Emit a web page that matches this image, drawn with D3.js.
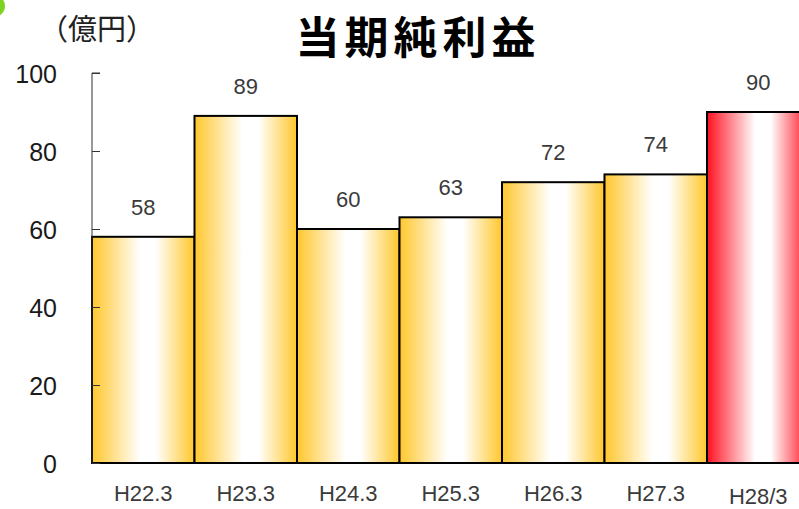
<!DOCTYPE html>
<html>
<head>
<meta charset="utf-8">
<script src="https://cdn.jsdelivr.net/npm/d3@7"></script>
<style>
  body { margin: 0; background: #fff; }
  svg { display: block; }
</style>
</head>
<body>
<svg width="799" height="509"></svg>
<script>
const categories = ['H22.3', 'H23.3', 'H24.3', 'H25.3', 'H26.3', 'H27.3', 'H28/3']
const values = [58, 89, 60, 63, 72, 74, 90]
const yTicks = [0, 20, 40, 60, 80, 100]
const title = '当期純利益'
const unit = '（億円）'

const svg = d3.select('svg')
const margin = { left: 92, top: 73, bottom: 463 }

const x = d3.scaleBand()
  .domain(categories)
  .range([margin.left, margin.left + 7 * 102.5])
  .padding(0)

const y = d3.scaleLinear()
  .domain([0, 100])
  .range([margin.bottom, margin.top])

// gradients for the bars
const defs = svg.append('defs')
function makeGrad (id, edge) {
  const g = defs.append('linearGradient')
    .attr('id', id)
    .attr('x1', '0%').attr('x2', '100%')
    .attr('y1', '0%').attr('y2', '0%')
  g.append('stop').attr('offset', '0%').attr('stop-color', edge)
  g.append('stop').attr('offset', '47%').attr('stop-color', '#fff')
  g.append('stop').attr('offset', '62%').attr('stop-color', '#fff')
  g.append('stop').attr('offset', '100%').attr('stop-color', edge)
}
makeGrad('gold', '#FFC72C')
makeGrad('red', '#FF1020')

// little green mark in the corner
svg.append('circle')
  .attr('cx', -6).attr('cy', 6).attr('r', 11)
  .attr('fill', '#7ED321')

// title and unit
svg.append('text')
  .attr('x', 418).attr('y', 54)
  .attr('text-anchor', 'middle')
  .attr('font-family', '"Noto Sans CJK JP", sans-serif')
  .attr('font-weight', 'bold')
  .attr('font-size', 44)
  .attr('letter-spacing', 5)
  .attr('fill', '#000')
  .text(title)

svg.append('text')
  .attr('x', 97).attr('y', 40)
  .attr('text-anchor', 'middle')
  .attr('font-family', '"Noto Sans CJK JP", sans-serif')
  .attr('font-size', 29)
  .attr('fill', '#222')
  .text(unit)

// bars
svg.append('g')
  .selectAll('rect')
  .data(values)
  .enter()
  .append('rect')
  .attr('x', (d, i) => x(categories[i]))
  .attr('y', d => y(d))
  .attr('width', x.bandwidth())
  .attr('height', d => y(0) - y(d))
  .attr('fill', (d, i) => i === values.length - 1 ? 'url(#red)' : 'url(#gold)')
  .attr('stroke', '#000')
  .attr('stroke-width', 2)

// value labels
svg.append('g')
  .selectAll('text')
  .data(values)
  .enter()
  .append('text')
  .attr('x', (d, i) => x(categories[i]) + x.bandwidth() / 2)
  .attr('y', d => y(d) - 22)
  .attr('text-anchor', 'middle')
  .attr('font-family', '"Liberation Sans", Arial, sans-serif')
  .attr('font-size', 22)
  .attr('fill', '#3a3a3a')
  .text(d => d)

// y axis, ticks pointing inward
const yAxis = d3.axisRight(y)
  .tickValues(yTicks)
  .tickSize(8)
  .tickFormat('')
const yg = svg.append('g')
  .attr('transform', `translate(${margin.left},0)`)
  .call(yAxis)
yg.select('.domain').attr('stroke', '#333').attr('d', `M8,${y(100)}H0V${y(0)}`)
yg.selectAll('.tick line').attr('stroke', '#333')

svg.append('g')
  .selectAll('text')
  .data(yTicks)
  .enter()
  .append('text')
  .attr('x', 57)
  .attr('y', d => y(d) + 10)
  .attr('text-anchor', 'end')
  .attr('font-family', '"Liberation Sans", Arial, sans-serif')
  .attr('font-size', 25)
  .attr('fill', '#1a1a1a')
  .text(d => d)

// category labels
svg.append('g')
  .selectAll('text')
  .data(categories)
  .enter()
  .append('text')
  .attr('x', d => x(d) + x.bandwidth() / 2)
  .attr('y', (d, i) => i === categories.length - 1 ? 504 : 501)
  .attr('text-anchor', 'middle')
  .attr('font-family', '"Liberation Sans", Arial, sans-serif')
  .attr('font-size', 22)
  .attr('fill', '#3a3a3a')
  .text(d => d)
</script>
</body>
</html>
